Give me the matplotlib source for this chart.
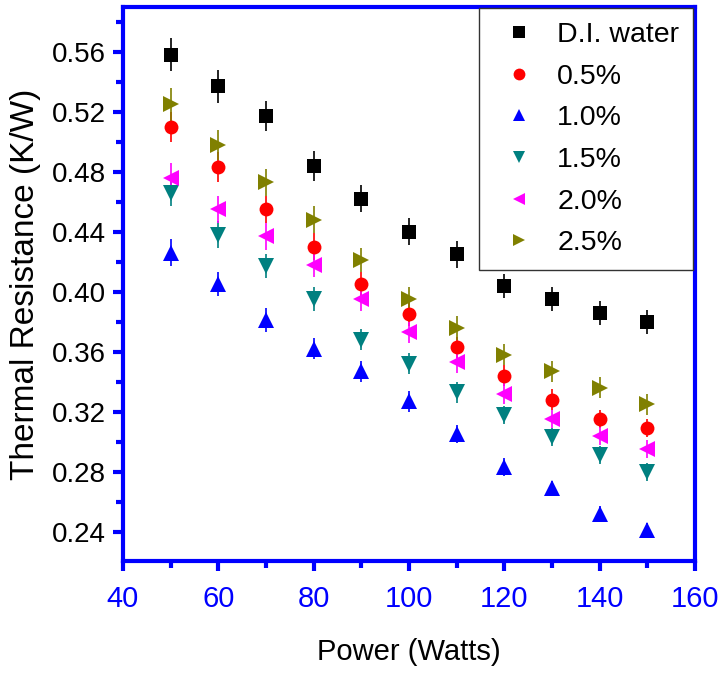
import numpy as np
import matplotlib
matplotlib.use('Agg')
import matplotlib.pyplot as plt
from matplotlib.ticker import MultipleLocator, FormatStrFormatter

power = [50, 60, 70, 80, 90, 100, 110, 120, 130, 140, 150]

labels = ['D.I. water', '0.5%', '1.0%', '1.5%', '2.0%', '2.5%']

r_water = [0.558, 0.537, 0.517, 0.484, 0.462, 0.440, 0.425, 0.404, 0.395, 0.386, 0.380]
r_05 = [0.510, 0.483, 0.455, 0.430, 0.405, 0.385, 0.363, 0.344, 0.328, 0.315, 0.309]
r_10 = [0.426, 0.405, 0.381, 0.362, 0.347, 0.327, 0.305, 0.283, 0.269, 0.252, 0.241]
r_15 = [0.466, 0.438, 0.417, 0.395, 0.368, 0.352, 0.333, 0.318, 0.303, 0.291, 0.280]
r_20 = [0.476, 0.455, 0.437, 0.418, 0.395, 0.373, 0.353, 0.332, 0.315, 0.304, 0.295]
r_25 = [0.525, 0.498, 0.473, 0.448, 0.421, 0.395, 0.376, 0.358, 0.347, 0.336, 0.325]

# error bar half-heights
e_water = [0.011, 0.011, 0.010, 0.010, 0.009, 0.009, 0.009, 0.008, 0.008, 0.008, 0.008]
e_05 = [0.010, 0.010, 0.009, 0.009, 0.008, 0.008, 0.007, 0.007, 0.007, 0.006, 0.006]
e_10 = [0.009, 0.008, 0.008, 0.007, 0.007, 0.007, 0.006, 0.006, 0.005, 0.005, 0.005]
e_15 = [0.009, 0.009, 0.008, 0.008, 0.007, 0.007, 0.007, 0.006, 0.006, 0.006, 0.006]
e_20 = [0.010, 0.009, 0.009, 0.008, 0.008, 0.007, 0.007, 0.007, 0.006, 0.006, 0.006]
e_25 = [0.011, 0.010, 0.009, 0.009, 0.008, 0.008, 0.008, 0.007, 0.007, 0.007, 0.007]

series = [r_water, r_05, r_10, r_15, r_20, r_25]
errors = [e_water, e_05, e_10, e_15, e_20, e_25]
colors = ['black', '#ff0000', '#0000ff', '#008080', '#ff00ff', '#808000']
markers = ['s', 'o', '^', 'v', '<', '>']
sizes = [9.5, 10, 11, 11, 11, 11]

plt.rcParams['font.family'] = ['Liberation Sans', 'DejaVu Sans']

fig = plt.figure(figsize=(7.19, 6.75), dpi=100)
ax = fig.add_axes([0.171, 0.169, 0.7955, 0.8205])

handles = []
for y, err, c, m, s, lab in zip(series, errors, colors, markers, sizes, labels):
    cont = ax.errorbar(power, y, yerr=err, fmt=m, color=c, ms=s, mew=0,
                       ecolor=c, elinewidth=1.2, capsize=5, capthick=1.2, label=lab)
    handles.append(cont[0])

ax.set_xlim(40, 160)
ax.set_ylim(0.2205, 0.5898)
ax.xaxis.set_major_locator(MultipleLocator(20))
ax.xaxis.set_minor_locator(MultipleLocator(10))
ax.yaxis.set_major_locator(MultipleLocator(0.04))
ax.yaxis.set_minor_locator(MultipleLocator(0.02))
ax.yaxis.set_major_formatter(FormatStrFormatter('%.2f'))

for sp in ax.spines.values():
    sp.set_color('#0000ff')
    sp.set_linewidth(3)

ax.tick_params(axis='both', which='major', direction='out', length=7, width=3,
               color='#0000ff')
ax.tick_params(axis='both', which='minor', direction='out', length=5, width=3,
               color='#0000ff')
ax.tick_params(axis='x', which='major', labelcolor='#0000ff', labelsize=21, pad=10)
ax.tick_params(axis='y', which='major', labelcolor='black', labelsize=20, pad=5)

ax.set_xlabel('Power (Watts)', fontsize=21, labelpad=18)
ax.set_ylabel('Thermal Resistance (K/W)', fontsize=24, labelpad=8)

leg = ax.legend(handles=handles, labels=labels, loc='upper right',
                bbox_to_anchor=(0.9975, 0.999), borderaxespad=0, fontsize=20.5,
                frameon=True, fancybox=False, markerscale=0.85, handletextpad=0.45,
                borderpad=0.5, labelspacing=0.55, handlelength=1.8)
leg.get_frame().set_edgecolor('#333333')
leg.get_frame().set_linewidth(1.0)
leg.get_frame().set_alpha(1)

fig.savefig('out.png', dpi=100)
